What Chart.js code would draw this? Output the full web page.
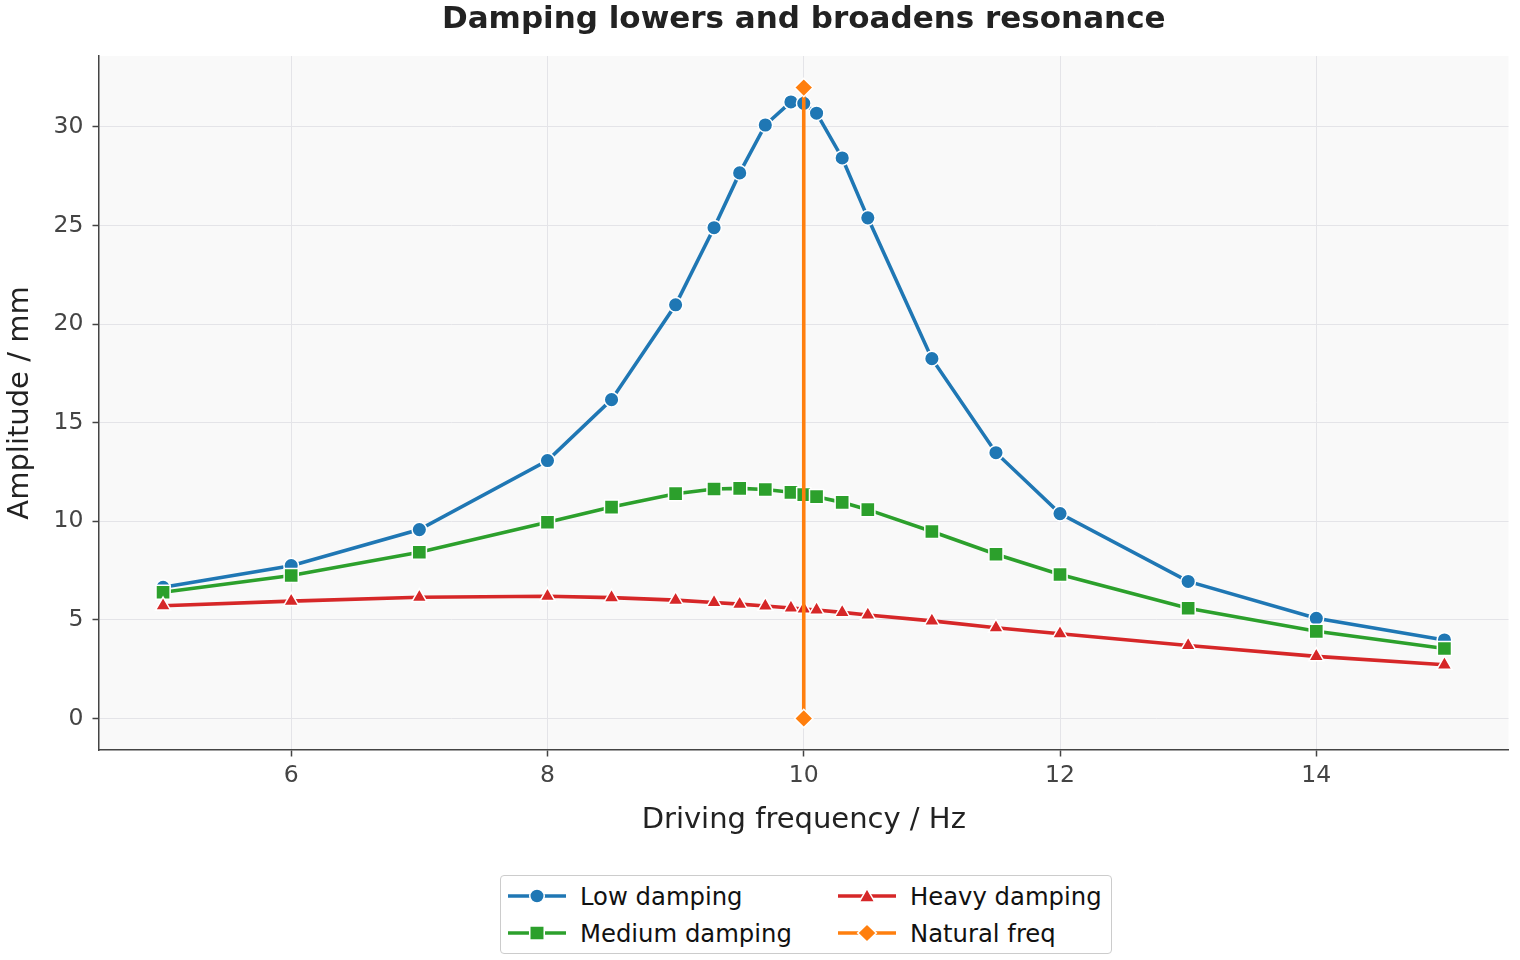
<!DOCTYPE html>
<html>
<head>
<meta charset="utf-8">
<script src="https://cdn.jsdelivr.net/npm/chart.js@4/dist/chart.umd.min.js"></script>
<style>
  html, body { margin: 0; padding: 0; background: #ffffff; }
  #wrap { position: relative; width: 1520px; height: 960px; }
  #legend { position: absolute; left: 500px; top: 875px; width: 612px; height: 79px;
            border: 1px solid #cccccc; border-radius: 4px; background: #ffffff; box-sizing: border-box;
            font-family: "DejaVu Sans", sans-serif; font-size: 24.3px; color: #111111; }
  .item { position: absolute; display: flex; align-items: center; height: 30px; white-space: nowrap; }
  .item svg { margin-right: 14px; }
</style>
</head>
<body>
<div id="wrap">
  <canvas id="c" width="1520" height="960"></canvas>
  <div id="legend"></div>
</div>
<script>
const frequency = [5, 6, 7, 8, 8.5, 9, 9.3, 9.5, 9.7, 9.9, 10, 10.1, 10.3, 10.5, 11, 11.5, 12, 13, 14, 15];
const lowDamping = [6.65, 7.75, 9.58, 13.08, 16.17, 20.98, 24.89, 27.67, 30.1, 31.27, 31.2, 30.7, 28.43, 25.39, 18.25, 13.48, 10.39, 6.95, 5.08, 3.98];
const mediumDamping = [6.4, 7.25, 8.43, 9.95, 10.72, 11.4, 11.64, 11.67, 11.61, 11.47, 11.35, 11.25, 10.96, 10.59, 9.48, 8.33, 7.3, 5.59, 4.42, 3.55];
const heavyDamping = [5.72, 5.95, 6.15, 6.2, 6.13, 6.0, 5.88, 5.8, 5.7, 5.6, 5.55, 5.5, 5.38, 5.25, 4.95, 4.6, 4.3, 3.7, 3.15, 2.72];
const naturalFreqX = [10, 10];
const naturalFreqY = [0, 32];
const xTicks = [6, 8, 10, 12, 14];
const yTicks = [0, 5, 10, 15, 20, 25, 30];
const seriesNames = ["Low damping", "Medium damping", "Heavy damping", "Natural freq"];

const toPoints = (xs, ys) => xs.map((x, i) => ({x: x, y: ys[i]}));

const bgPlugin = {
  id: 'plotBg',
  beforeDraw(chart) {
    const {ctx, chartArea: a} = chart;
    ctx.save();
    ctx.fillStyle = '#f9f9f9';
    ctx.fillRect(a.left, a.top, a.right - a.left, a.bottom - a.top);
    ctx.restore();
  }
};

const FONT = '"DejaVu Sans", sans-serif';

const styles = [
  {color: '#1f77b4', style: 'circle', r: 7.3, order: 4},
  {color: '#2ca02c', style: 'rect', r: 10, order: 3},
  {color: '#d62728', style: 'triangle', r: 8.6, order: 2},
  {color: '#ff7f0e', style: 'rectRot', r: 9.2, order: 1}
];
const seriesData = [
  toPoints(frequency, lowDamping),
  toPoints(frequency, mediumDamping),
  toPoints(frequency, heavyDamping),
  toPoints(naturalFreqX, naturalFreqY)
];

const datasets = seriesNames.map((name, i) => ({
  label: name,
  data: seriesData[i],
  borderColor: styles[i].color,
  backgroundColor: styles[i].color,
  pointBackgroundColor: styles[i].color,
  pointBorderColor: '#ffffff',
  pointBorderWidth: 1.5,
  pointStyle: styles[i].style,
  pointRadius: styles[i].r,
  pointHoverRadius: styles[i].r,
  borderWidth: 3.6,
  tension: 0,
  order: styles[i].order,
  clip: false
}));

new Chart(document.getElementById('c'), {
  type: 'line',
  data: { datasets },
  plugins: [bgPlugin],
  options: {
    responsive: false,
    animation: false,
    layout: { padding: { left: 0, right: 7, top: 0, bottom: 0 } },
    plugins: {
      legend: { display: false },
      tooltip: { enabled: false },
      title: {
        display: true,
        fullSize: false,
        text: 'Damping lowers and broadens resonance',
        color: '#222222',
        font: { family: FONT, size: 31, weight: 'bold', lineHeight: 1.2 },
        padding: { top: 1.4, bottom: 17.4 }
      }
    },
    scales: {
      x: {
        type: 'linear',
        min: 4.5, max: 15.5,
        afterBuildTicks(scale) { scale.ticks = xTicks.map(v => ({value: v})); },
        afterFit(scale) { scale.height = 210; scale.paddingLeft = 0; scale.paddingRight = 0; },
        grid: { color: '#e4e4e8', lineWidth: 1, drawTicks: true, tickLength: 6.5, tickColor: '#444444', tickWidth: 1.5 },
        border: { display: true, color: '#444444', width: 1.5 },
        ticks: { color: '#444444', font: { family: FONT, size: 23.5 }, padding: 5, maxRotation: 0 },
        title: {
          display: true, text: 'Driving frequency / Hz', color: '#222222',
          font: { family: FONT, size: 29, lineHeight: 1.2 },
          padding: { top: 0, bottom: 122.6 }
        }
      },
      y: {
        type: 'linear',
        min: -1.6, max: 33.6,
        afterBuildTicks(scale) { scale.ticks = yTicks.map(v => ({value: v})); },
        afterFit(scale) { scale.width = 99; scale.paddingTop = 0; scale.paddingBottom = 0; },
        grid: { color: '#e4e4e8', lineWidth: 1, drawTicks: true, tickLength: 6.5, tickColor: '#444444', tickWidth: 1.5 },
        border: { display: true, color: '#444444', width: 1.5 },
        ticks: { color: '#444444', font: { family: FONT, size: 23.5 }, padding: 9 },
        title: {
          display: true, text: 'Amplitude / mm', color: '#222222',
          font: { family: FONT, size: 29, lineHeight: 1.2 },
          padding: { top: 2.6, bottom: 0 }
        }
      }
    }
  }
});

// Legend (HTML)
function markerSvg(i) {
  const c = styles[i].color;
  let m = '';
  if (styles[i].style === 'circle') m = `<circle cx="28" cy="15" r="7" fill="${c}" stroke="#fff" stroke-width="1.5"/>`;
  else if (styles[i].style === 'rect') m = `<rect x="21" y="8" width="14" height="14" fill="${c}" stroke="#fff" stroke-width="1.5"/>`;
  else if (styles[i].style === 'triangle') m = `<polygon points="28,7.5 35.5,21 20.5,21" fill="${c}" stroke="#fff" stroke-width="1.5"/>`;
  else m = `<polygon points="28,6 37,15 28,24 19,15" fill="${c}" stroke="#fff" stroke-width="1.5"/>`;
  return `<svg width="58" height="30" viewBox="0 0 56 30" preserveAspectRatio="none"><line x1="0" y1="15" x2="56" y2="15" stroke="${c}" stroke-width="3.6"/>${m}</svg>`;
}
const legendPos = [[7, 5], [7, 42], [337, 5], [337, 42]];
const lg = document.getElementById('legend');
seriesNames.forEach((name, i) => {
  const d = document.createElement('div');
  d.className = 'item';
  d.style.left = legendPos[i][0] + 'px';
  d.style.top = legendPos[i][1] + 'px';
  d.innerHTML = markerSvg(i) + '<span>' + name + '</span>';
  lg.appendChild(d);
});
</script>
</body>
</html>
